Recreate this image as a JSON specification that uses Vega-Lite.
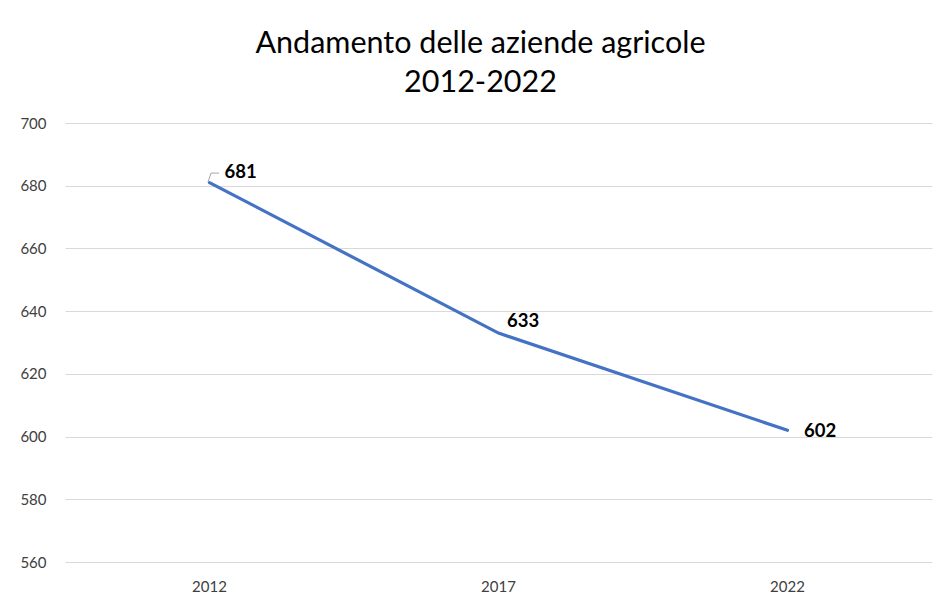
{
  "$schema": "https://vega.github.io/schema/vega-lite/v6.json",
  "width": 867,
  "height": 439,
  "autosize": {"type": "none"},
  "padding": {"left": 65, "top": 123, "right": 7, "bottom": 44},
  "background": "white",
  "title": {
    "text": ["Andamento delle aziende agricole", "2012-2022"],
    "font": "Lato",
    "fontSize": 30.5,
    "fontWeight": "normal",
    "color": "#000000",
    "lineHeight": 39,
    "anchor": "middle",
    "dx": -18,
    "offset": 18
  },
  "data": {
    "values": [
      {"anno": "2012", "aziende": 681},
      {"anno": "2017", "aziende": 633},
      {"anno": "2022", "aziende": 602}
    ]
  },
  "encoding": {
    "x": {
      "field": "anno",
      "type": "ordinal",
      "scale": {"type": "band", "paddingInner": 0, "paddingOuter": 0},
      "axis": {
        "title": null,
        "labelAngle": 0,
        "labelFont": "Lato",
        "labelFontSize": 15,
        "labelColor": "#404040",
        "labelPadding": 17,
        "ticks": false,
        "domain": false,
        "grid": false
      }
    },
    "y": {
      "field": "aziende",
      "type": "quantitative",
      "scale": {"domain": [560, 700], "nice": false, "zero": false},
      "axis": {
        "title": null,
        "values": [560, 580, 600, 620, 640, 660, 680, 700],
        "labelFont": "Lato",
        "labelFontSize": 15,
        "labelColor": "#404040",
        "labelPadding": 19,
        "ticks": false,
        "domain": false,
        "gridColor": "#d9d9d9",
        "gridWidth": 1
      }
    }
  },
  "layer": [
    {
      "mark": {"type": "line", "color": "#4472C4", "strokeWidth": 3.2, "strokeCap": "round"}
    },
    {
      "transform": [{"filter": "datum.anno == '2012'"}],
      "mark": {"type": "rule", "color": "#a6a6a6", "strokeWidth": 1, "xOffset": -1.5, "yOffset": -0.5, "x2Offset": 1.5, "y2Offset": -9.5},
      "encoding": {"x2": {"field": "anno"}, "y2": {"field": "aziende"}}
    },
    {
      "transform": [{"filter": "datum.anno == '2012'"}],
      "mark": {"type": "rule", "color": "#a6a6a6", "strokeWidth": 1, "xOffset": 1.5, "yOffset": -9.5, "x2Offset": 9.5, "y2Offset": -9.5},
      "encoding": {"x2": {"field": "anno"}, "y2": {"field": "aziende"}}
    },
    {
      "transform": [{"filter": "datum.anno == '2012'"}],
      "mark": {"type": "text", "font": "Lato", "fontSize": 18.5, "fontWeight": "bold", "color": "#000000", "align": "left", "baseline": "alphabetic", "dx": 15, "dy": -4.5},
      "encoding": {"text": {"field": "aziende"}}
    },
    {
      "transform": [{"filter": "datum.anno == '2017'"}],
      "mark": {"type": "text", "font": "Lato", "fontSize": 18.5, "fontWeight": "bold", "color": "#000000", "align": "left", "baseline": "alphabetic", "dx": 8.5, "dy": -6},
      "encoding": {"text": {"field": "aziende"}}
    },
    {
      "transform": [{"filter": "datum.anno == '2022'"}],
      "mark": {"type": "text", "font": "Lato", "fontSize": 18.5, "fontWeight": "bold", "color": "#000000", "align": "left", "baseline": "alphabetic", "dx": 16.5, "dy": 6.5},
      "encoding": {"text": {"field": "aziende"}}
    }
  ],
  "config": {"view": {"stroke": null}}
}
